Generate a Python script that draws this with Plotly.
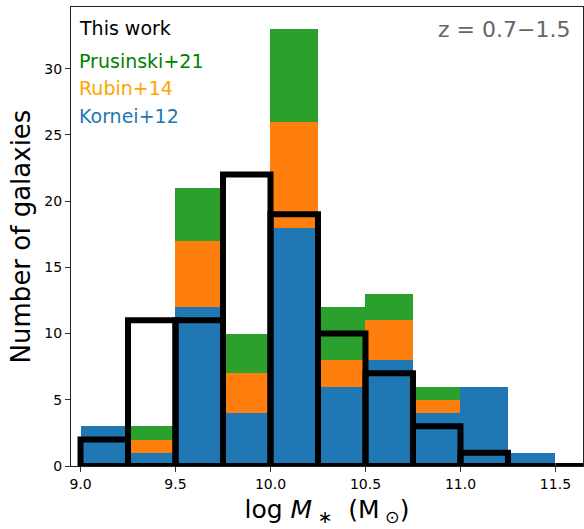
import numpy as np
import plotly.graph_objects as go

# Stellar-mass bins (log M*, width 0.25 dex)
bin_edges = [9.0, 9.25, 9.5, 9.75, 10.0, 10.25, 10.5, 10.75, 11.0, 11.25, 11.5]

# Literature samples, stacked
kornei12 = [3, 1, 12, 4, 18, 6, 8, 4, 6, 1]
rubin14 = [0, 1, 5, 3, 8, 2, 3, 1, 0, 0]
prusinski21 = [0, 1, 4, 3, 7, 4, 2, 1, 0, 0]

# This work (unfilled bar outlines); the empty bins continue past 11.5
this_work_edges = [9.0, 9.25, 9.5, 9.75, 10.0, 10.25, 10.5, 10.75, 11.0,
                   11.25, 11.5, 11.75]
this_work = [2, 11, 11, 22, 19, 10, 7, 3, 1, 0, 0]

x_range = [8.95, 11.645]
y_range = [0, 34.65]

edges = np.array(bin_edges)
centers = (edges[:-1] + edges[1:]) / 2
widths = np.diff(edges)

fig = go.Figure()
for name, vals, col in [("Kornei+12", kornei12, "#1f77b4"),
                        ("Rubin+14", rubin14, "#ff7f0e"),
                        ("Prusinski+21", prusinski21, "#2ca02c")]:
    fig.add_trace(go.Bar(x=centers, y=vals, width=widths, name=name,
                         marker=dict(color=col, line=dict(width=0)),
                         showlegend=False))

# Each bin of this work is an open rectangle with a thick black edge
sx, sy = [], []
tw_edges = this_work_edges
for i, c in enumerate(this_work):
    x0, x1 = tw_edges[i], tw_edges[i + 1]
    sx += [x0, x0, x1, x1, x0, None]
    sy += [0, c, c, 0, 0, None]
fig.add_trace(go.Scatter(x=sx, y=sy, mode="lines",
                         line=dict(color="black", width=6),
                         connectgaps=False,
                         showlegend=False, hoverinfo="skip"))

font = "DejaVu Sans, Liberation Sans, sans-serif"

labels = [("This work", "black", 0.954),
          ("Prusinski+21", "green", 0.882),
          ("Rubin+14", "orange", 0.8235),
          ("Kornei+12", "#1f77b4", 0.7625)]
for txt, col, yy in labels:
    fig.add_annotation(x=0.012, y=yy, xref="paper", yref="paper",
                       text=txt, showarrow=False, xanchor="left",
                       yanchor="middle",
                       font=dict(family=font, size=19, color=col))

fig.add_annotation(x=0.9785, y=0.95, xref="paper", yref="paper",
                   text="z = 0.7\u22121.5", showarrow=False,
                   xanchor="right", yanchor="middle",
                   font=dict(family=font, size=22, color="#666666"))

fig.update_layout(
    width=584, height=529,
    margin=dict(l=71, r=1, t=7, b=63),
    paper_bgcolor="white", plot_bgcolor="white",
    barmode="stack", bargap=0,
    font=dict(family=font, color="black"),
    xaxis=dict(range=x_range, tickvals=[9.0, 9.5, 10.0, 10.5, 11.0, 11.5],
               ticktext=["9.0", "9.5", "10.0", "10.5", "11.0", "11.5"],
               ticks="outside", ticklen=5, tickcolor="#333",
               tickfont=dict(size=14), showgrid=False, zeroline=False,
               showline=True, linecolor="#222", linewidth=1, mirror=True,
               title=dict(text="log <i>M</i><sub> \u2217</sub>  (M<sub> \u2299</sub>)",
                          font=dict(size=25), standoff=9)),
    yaxis=dict(range=y_range, tickvals=[0, 5, 10, 15, 20, 25, 30],
               ticks="outside", ticklen=5, tickcolor="#333",
               tickfont=dict(size=14), showgrid=False, zeroline=False,
               showline=True, linecolor="#222", linewidth=1, mirror=True,
               title=dict(text="Number of galaxies", font=dict(size=26),
                          standoff=6)),
)

fig.write_html("out.html")
